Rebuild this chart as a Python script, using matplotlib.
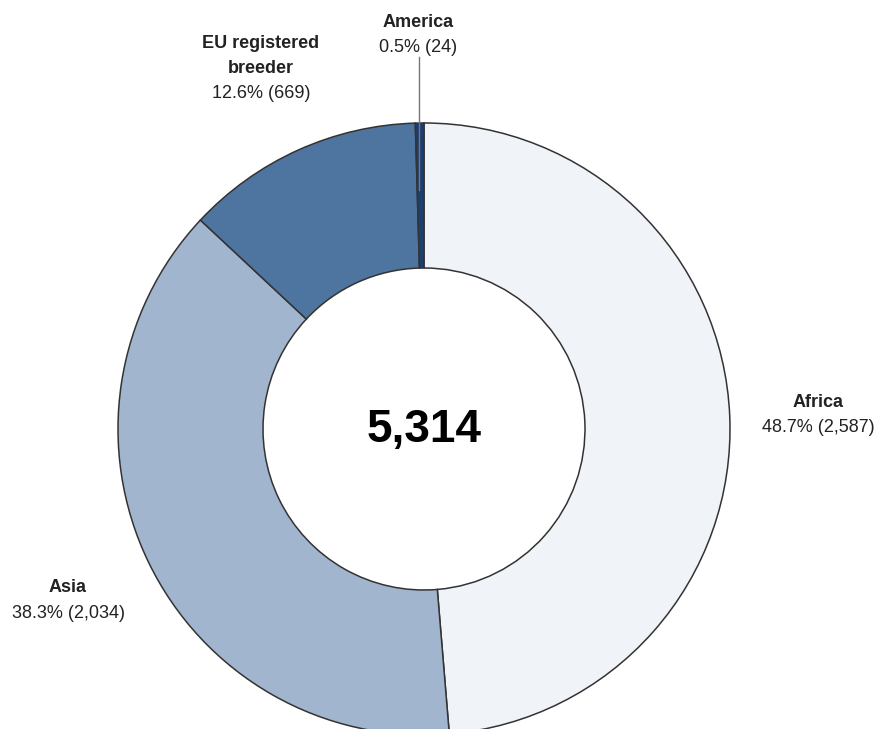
import matplotlib
matplotlib.use("Agg")
import matplotlib.pyplot as plt

plt.rcParams['font.family'] = ['Liberation Sans', 'DejaVu Sans']

# Origin of animals, clockwise from the top
regions = ["Africa", "Asia", "EU registered\nbreeder", "America"]
counts = [2587, 2034, 669, 24]
shares = ["48.7%", "38.3%", "12.6%", "0.5%"]
total_label = "5,314"

colors = ["#F0F4F9", "#A1B5CE", "#4E74A0", "#1D3F70"]

W, H = 876, 729
fig = plt.figure(figsize=(W / 100, H / 100), dpi=100)
ax = fig.add_axes([0, 0, 1, 1])
ax.set_xlim(0, W)
ax.set_ylim(0, H)
ax.set_aspect("equal")
ax.axis("off")

cx, cy = 424, H - 429
r_out, r_in = 306, 161

ax.pie(counts, colors=colors, startangle=90, counterclock=False,
       radius=r_out, center=(cx, cy), frame=True,
       wedgeprops=dict(width=r_out - r_in, edgecolor="#333333", linewidth=1.1))
ax.set_xlim(0, W)
ax.set_ylim(0, H)
ax.axis("off")

# leader line for the thin America slice
ax.plot([419, 419], [H - 57, H - 190], color="#777777", lw=1.0, zorder=5)

# label anchors (pixel centre of first line)
anchors = [(818, 402), (68, 588), (261, 43), (418, 22)]
line_step = 25
for name, share, n, (x, y) in zip(regions, shares, counts, anchors):
    name_lines = name.split("\n")
    for i, ln in enumerate(name_lines):
        ax.text(x, H - (y + i * line_step), ln, ha="center", va="center",
                fontsize=13, fontweight="bold", color="#222222")
    ax.text(x, H - (y + len(name_lines) * line_step), f"{share} ({n:,})",
            ha="center", va="center", fontsize=13, color="#222222")

ax.text(cx, H - 430, total_label, ha="center", va="center",
        fontsize=33, fontweight="bold", color="#000000")

fig.savefig("out.png", dpi=100)
